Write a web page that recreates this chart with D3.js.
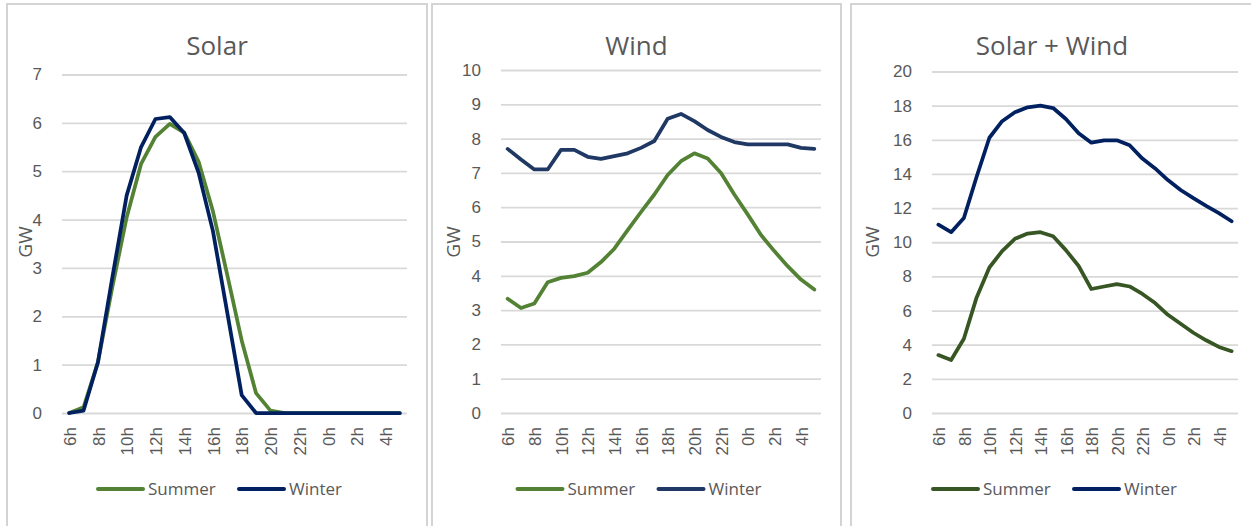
<!DOCTYPE html>
<html>
<head>
<meta charset="utf-8">
<script src="https://cdn.jsdelivr.net/npm/d3@7"></script>
<style>
  body { margin: 0; background: #fff; }
  svg { display: block; font-family: "Open Sans", sans-serif; }
  .tick text { fill: #595959; font-size: 17px; }
  .grid line { stroke: #d9d9d9; stroke-width: 1.8px; }
</style>
</head>
<body>
<svg id="chart" width="1251" height="526"></svg>
<script>
const hours = ["6h", "7h", "8h", "9h", "10h", "11h", "12h", "13h", "14h", "15h", "16h", "17h",
  "18h", "19h", "20h", "21h", "22h", "23h", "0h", "1h", "2h", "3h", "4h", "5h"];
const hourLabels = hours.filter((h, i) => i % 2 === 0);

const seriesNames = ["Summer", "Winter"];

const solarSummer = [0, 0.12, 1.05, 2.6, 4.05, 5.15, 5.71, 5.98, 5.8, 5.2, 4.17, 2.85,
  1.5, 0.41, 0.05, 0, 0, 0, 0, 0, 0, 0, 0, 0];
const solarWinter = [0, 0.05, 1.05, 2.8, 4.5, 5.5, 6.08, 6.12, 5.79, 4.97, 3.76, 2.07,
  0.37, 0, 0, 0, 0, 0, 0, 0, 0, 0, 0, 0];

const windSummer = [3.33, 3.06, 3.19, 3.81, 3.94, 3.99, 4.09, 4.40, 4.79, 5.33, 5.86, 6.37,
  6.94, 7.34, 7.57, 7.42, 7.00, 6.37, 5.79, 5.19, 4.72, 4.28, 3.89, 3.60];
const windWinter = [7.70, 7.39, 7.10, 7.10, 7.67, 7.67, 7.47, 7.41, 7.49, 7.57, 7.73, 7.93,
  8.58, 8.72, 8.51, 8.25, 8.05, 7.90, 7.83, 7.83, 7.83, 7.83, 7.73, 7.70];

const bothSummer = [3.39, 3.10, 4.35, 6.77, 8.52, 9.48, 10.2, 10.51, 10.59, 10.35, 9.54, 8.61,
  7.26, 7.41, 7.55, 7.41, 6.97, 6.44, 5.75, 5.23, 4.70, 4.26, 3.87, 3.62];
const bothWinter = [11.03, 10.59, 11.42, 13.84, 16.12, 17.09, 17.61, 17.90, 18.0, 17.86, 17.22, 16.39,
  15.83, 15.97, 15.97, 15.68, 14.90, 14.32, 13.64, 13.06, 12.58, 12.13, 11.71, 11.23];

const svg = d3.select("#chart");

// one Excel-style chart box per panel
const panels = [
  { title: "Solar", summer: solarSummer, winter: solarWinter, yMax: 7, yStep: 1,
    box: [7, 427], plot: [62, 407], top: 74.5, colors: ["#548235", "#002060"], gwX: 25 },
  { title: "Wind", summer: windSummer, winter: windWinter, yMax: 10, yStep: 1,
    box: [432, 841], plot: [501, 821], top: 70, colors: ["#548235", "#1f3864"], gwX: 453 },
  { title: "Solar + Wind", summer: bothSummer, winter: bothWinter, yMax: 20, yStep: 2,
    box: [851, 1253], plot: [932, 1238], top: 71.5, colors: ["#375623", "#002060"], gwX: 872 }
];

const bottom = 413;

panels.forEach(p => {
  const center = (p.box[0] + p.box[1]) / 2;

  svg.append("rect")
      .attr("x", p.box[0])
      .attr("y", 4)
      .attr("width", p.box[1] - p.box[0])
      .attr("height", 540)
      .attr("fill", "#fff")
      .attr("stroke", "#d4d4d4")
      .attr("stroke-width", 2);

  svg.append("text")
      .attr("x", center)
      .attr("y", 55)
      .attr("text-anchor", "middle")
      .attr("fill", "#595959")
      .style("font-size", "26px")
      .text(p.title);

  const x = d3.scalePoint()
      .domain(hours)
      .range(p.plot)
      .padding(0.5);

  const y = d3.scaleLinear()
      .domain([0, p.yMax])
      .range([bottom, p.top]);

  svg.append("g")
      .attr("class", "grid")
      .attr("transform", "translate(" + p.plot[0] + ",0)")
      .call(d3.axisLeft(y)
          .tickValues(d3.range(0, p.yMax + 0.001, p.yStep))
          .tickFormat(d3.format("d"))
          .tickSize(-(p.plot[1] - p.plot[0]))
          .tickPadding(20))
      .call(g => g.select(".domain").remove());

  const xAxis = svg.append("g")
      .attr("transform", "translate(0," + bottom + ")")
      .call(d3.axisBottom(x).tickValues(hourLabels).tickSize(0));
  xAxis.select(".domain").remove();
  xAxis.selectAll("text")
      .attr("transform", "rotate(-90)")
      .attr("text-anchor", "end")
      .attr("x", -14)
      .attr("y", 0)
      .attr("dy", "0.36em");

  svg.append("text")
      .attr("transform", "translate(" + p.gwX + ",242) rotate(-90)")
      .attr("text-anchor", "middle")
      .attr("dy", "0.35em")
      .attr("fill", "#595959")
      .style("font-size", "19px")
      .text("GW");

  const line = d3.line()
      .x((d, i) => x(hours[i]))
      .y(d => y(d));

  [p.summer, p.winter].forEach((values, k) => {
    svg.append("path")
        .datum(values)
        .attr("fill", "none")
        .attr("stroke", p.colors[k])
        .attr("stroke-width", 3.75)
        .attr("stroke-linejoin", "round")
        .attr("stroke-linecap", "round")
        .attr("d", line);
  });

  // legend
  const legend = svg.append("g")
      .attr("transform", "translate(" + (center - 119) + ",489)");
  seriesNames.forEach((name, k) => {
    const item = legend.append("g").attr("transform", "translate(" + (k * 141) + ",0)");
    item.append("line")
        .attr("x1", 0).attr("x2", 45)
        .attr("stroke", p.colors[k])
        .attr("stroke-width", 4)
        .attr("stroke-linecap", "round");
    item.append("text")
        .attr("x", 50)
        .attr("dy", "0.35em")
        .attr("fill", "#595959")
        .style("font-size", "17px")
        .text(name);
  });
});
</script>
</body>
</html>
